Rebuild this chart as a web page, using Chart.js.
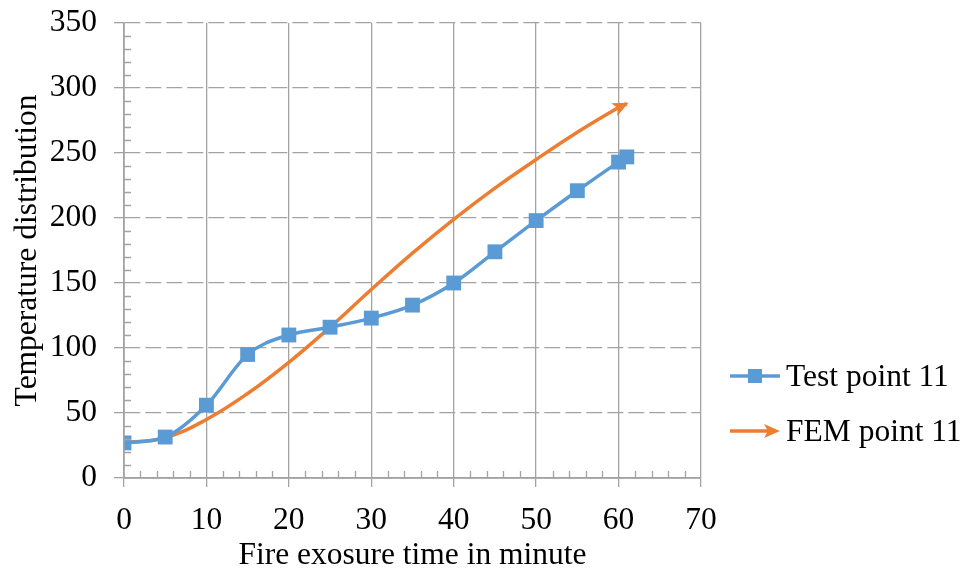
<!DOCTYPE html>
<html>
<head>
<meta charset="utf-8">
<script src="https://cdn.jsdelivr.net/npm/chart.js@4/dist/chart.umd.min.js"></script>
<style>
  body { margin: 0; background: #fff; }
  #wrap { position: relative; width: 962px; height: 572px; }
  .legend { position: absolute; left: 728px; font-family: "Liberation Serif", "Times New Roman", serif; font-size: 31.5px; color: #000; display: flex; align-items: center; white-space: nowrap; }
  .legend svg { margin-right: 4px; }
</style>
</head>
<body>
<div id="wrap">
  <canvas id="chart" width="962" height="572"></canvas>
  <div class="legend" style="top:358px;">
    <svg width="54" height="20"><line x1="2" y1="10" x2="52" y2="10" stroke="#5b9bd5" stroke-width="3.5"/><rect x="20" y="3" width="14" height="14" fill="#5b9bd5"/></svg>Test point 11
  </div>
  <div class="legend" style="top:413px;">
    <svg width="54" height="20"><line x1="2" y1="10" x2="40" y2="10" stroke="#ed7d31" stroke-width="3.5"/><polygon points="52,10 36,3 40,10 36,17" fill="#ed7d31"/></svg>FEM point 11
  </div>
</div>
<script>
// fire exposure time (min) and measured / simulated temperatures
const testTime = [0, 5, 10, 15, 20, 25, 30, 35, 40, 45, 50, 55, 60, 61];
const testTemp = [27, 31.5, 56, 95, 110, 116, 123, 133, 150, 174, 198, 221, 243, 247];
const femTime = [0, 5, 10, 15, 20, 25, 30, 35, 40, 45, 50, 55, 60, 61];
const femTemp = [27, 31, 45, 65, 89, 116, 145, 173, 199, 223, 245, 266, 285, 288];

const xTicks = [0, 10, 20, 30, 40, 50, 60, 70];
const yTicks = [0, 50, 100, 150, 200, 250, 300, 350];

const BLUE = '#5b9bd5';
const ORANGE = '#ed7d31';
const GRID = '#a3a3a3';
const FONT = '"Liberation Serif", "Times New Roman", serif';
const FONT_SIZE = 31.5;

function toPoints(xs, ys) {
  return xs.map((x, i) => ({ x: x, y: ys[i] }));
}

// small inner ticks between the major ones
const minorTicks = {
  id: 'minorTicks',
  afterDraw(chart) {
    const { ctx, scales: { x, y } } = chart;
    ctx.save();
    ctx.strokeStyle = GRID;
    ctx.lineWidth = 1.3;
    ctx.setLineDash([]);
    ctx.beginPath();
    for (let v = 0; v <= 350; v += 10) {
      if (v % 50 === 0) continue;
      const py = Math.round(y.getPixelForValue(v)) + 0.5;
      ctx.moveTo(x.left, py);
      ctx.lineTo(x.left + 7, py);
    }
    for (let v = 0; v <= 70; v += 2) {
      if (v % 10 === 0) continue;
      const px = Math.round(x.getPixelForValue(v)) + 0.5;
      ctx.moveTo(px, y.bottom);
      ctx.lineTo(px, y.bottom - 7);
    }
    ctx.stroke();
    // solid axis lines on top of the dashed grid
    ctx.beginPath();
    ctx.moveTo(x.left, y.top);
    ctx.lineTo(x.left, y.bottom);
    ctx.lineTo(x.right, y.bottom);
    ctx.stroke();
    ctx.restore();
  }
};

// arrow head at the end of the FEM curve
const arrowHead = {
  id: 'arrowHead',
  afterDatasetsDraw(chart) {
    const meta = chart.getDatasetMeta(1);
    const pts = meta.data;
    if (pts.length < 2) return;
    const a = pts[pts.length - 2], b = pts[pts.length - 1];
    const ang = Math.atan2(b.y - a.y, b.x - a.x);
    const len = 16, half = 7;
    const { ctx } = chart;
    ctx.save();
    ctx.translate(b.x, b.y);
    ctx.rotate(ang);
    ctx.fillStyle = ORANGE;
    ctx.beginPath();
    ctx.moveTo(2, 0);
    ctx.lineTo(2 - len, -half);
    ctx.lineTo(2 - len + 4, 0);
    ctx.lineTo(2 - len, half);
    ctx.closePath();
    ctx.fill();
    ctx.restore();
  }
};

new Chart(document.getElementById('chart'), {
  type: 'line',
  data: {
    datasets: [
      {
        label: 'Test point 11',
        data: toPoints(testTime, testTemp),
        borderColor: BLUE,
        backgroundColor: BLUE,
        borderWidth: 3.5,
        pointStyle: 'rect',
        pointRadius: 10.5,
        pointHoverRadius: 10.5,
        pointBorderWidth: 0,
        cubicInterpolationMode: 'monotone'
      },
      {
        label: 'FEM point 11',
        data: toPoints(femTime, femTemp),
        borderColor: ORANGE,
        backgroundColor: ORANGE,
        borderWidth: 3.5,
        pointRadius: 0,
        tension: 0.4
      }
    ]
  },
  options: {
    responsive: false,
    devicePixelRatio: 1,
    animation: false,
    layout: { padding: { left: 0, right: 261, top: 23, bottom: 0 } },
    plugins: {
      legend: { display: false },
      tooltip: { enabled: false }
    },
    scales: {
      x: {
        type: 'linear',
        min: 0,
        max: 70,
        afterBuildTicks(scale) { scale.ticks = xTicks.map(v => ({ value: v })); },
        afterFit(scale) { scale.height = 94; scale.paddingLeft = 0; scale.paddingRight = 0; },
        ticks: { color: '#000', font: { family: FONT, size: FONT_SIZE, lineHeight: 1 }, padding: 18, maxRotation: 0 },
        grid: { color: GRID, lineWidth: 1.3, tickLength: 9, drawTicks: true },
        border: { color: GRID, width: 1.3 },
        title: {
          display: true,
          text: 'Fire exosure time in minute',
          color: '#000',
          font: { family: FONT, size: FONT_SIZE, lineHeight: 1 },
          padding: { top: 0, bottom: 1 }
        }
      },
      y: {
        min: 0,
        max: 350,
        afterBuildTicks(scale) { scale.ticks = yTicks.map(v => ({ value: v })); },
        afterFit(scale) { scale.width = 124; scale.paddingTop = 0; scale.paddingBottom = 0; },
        ticks: { color: '#000', font: { family: FONT, size: FONT_SIZE, lineHeight: 1 }, padding: 17 },
        grid: { color: GRID, lineWidth: 1.3, tickLength: 10, tickBorderDash: [], tickBorderDashOffset: 0 },
        border: { color: GRID, width: 1.3, dash: [16, 5] },
        title: {
          display: true,
          text: 'Temperature distribution',
          color: '#000',
          font: { family: FONT, size: FONT_SIZE, lineHeight: 1 },
          padding: { top: 12, bottom: 0 }
        }
      }
    }
  },
  plugins: [minorTicks, arrowHead]
});
</script>
</body>
</html>
